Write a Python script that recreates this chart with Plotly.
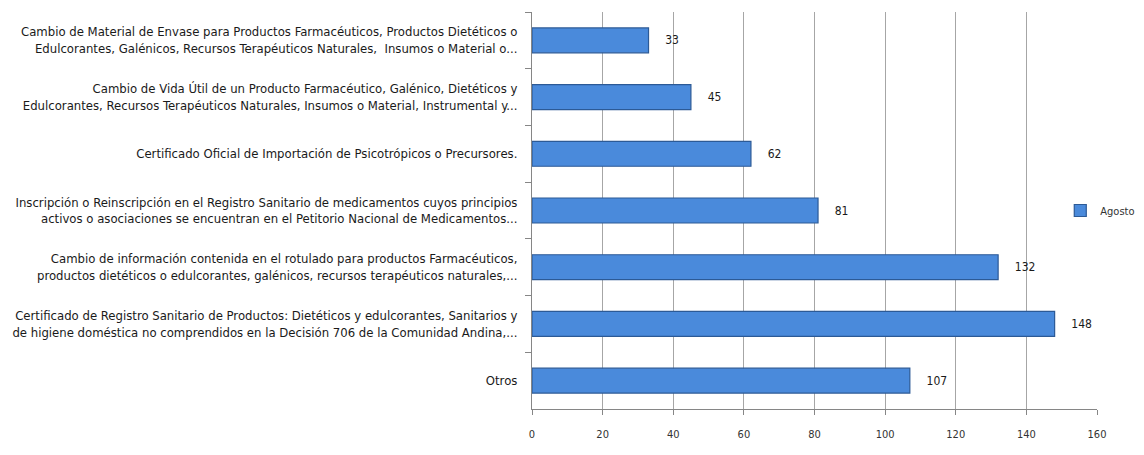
import plotly.graph_objects as go

categories = [
    "Cambio de Material de Envase para Productos Farmacéuticos, Productos Dietéticos o<br>Edulcorantes, Galénicos, Recursos Terapéuticos Naturales,  Insumos o Material o...",
    "Cambio de Vida Útil de un Producto Farmacéutico, Galénico, Dietéticos y<br>Edulcorantes, Recursos Terapéuticos Naturales, Insumos o Material, Instrumental y...",
    "Certificado Oficial de Importación de Psicotrópicos o Precursores.",
    "Inscripción o Reinscripción en el Registro Sanitario de medicamentos cuyos principios<br>activos o asociaciones se encuentran en el Petitorio Nacional de Medicamentos...",
    "Cambio de información contenida en el rotulado para productos Farmacéuticos,<br>productos dietéticos o edulcorantes, galénicos, recursos terapéuticos naturales,...",
    "Certificado de Registro Sanitario de Productos: Dietéticos y edulcorantes, Sanitarios y<br>de higiene doméstica no comprendidos en la Decisión 706 de la Comunidad Andina,...",
    "Otros",
]
values = [33, 45, 62, 81, 132, 148, 107]
series_name = "Agosto"
x_ticks = [0, 20, 40, 60, 80, 100, 120, 140, 160]

FONT = "DejaVu Sans Condensed, Liberation Sans Narrow, sans-serif"

fig = go.Figure()
fig.add_trace(go.Bar(
    x=values,
    y=categories,
    orientation="h",
    name=series_name,
    marker=dict(color="#4A8ADB", line=dict(color="#2C5A96", width=1.2)),
    text=values,
    texttemplate="\u00a0\u00a0\u00a0\u00a0%{x}",
    textposition="outside",
    textfont=dict(family=FONT, size=12, color="#1a1a1a"),
    cliponaxis=False,
    showlegend=True,
))

# The page body adds an 8px offset; the figure is sized to fit the window.
fig.update_layout(
    width=1136,
    height=447,
    margin=dict(l=524, r=47, t=4, b=46, autoexpand=False),
    paper_bgcolor="white",
    plot_bgcolor="white",
    bargap=0.56,
    font=dict(family=FONT, size=12, color="#1a1a1a"),
    legend=dict(
        x=0.935, y=0.5, xanchor="left", yanchor="middle",
        bgcolor="rgba(0,0,0,0)",
        font=dict(family=FONT, size=11, color="#333333"),
        itemwidth=30,
    ),
    xaxis=dict(
        range=[0, 160],
        tickvals=x_ticks,
        showgrid=True,
        gridcolor="#A6A6A6",
        gridwidth=1,
        showline=True,
        linecolor="#868686",
        ticks="outside",
        ticklen=5,
        tickcolor="#868686",
        ticklabelstandoff=10,
        tickfont=dict(family=FONT, size=11, color="#333333"),
        zeroline=False,
        fixedrange=True,
        automargin=False,
    ),
    yaxis=dict(
        autorange="reversed",
        showline=True,
        linecolor="#868686",
        ticks="outside",
        tickson="boundaries",
        ticklen=6,
        tickcolor="#868686",
        ticklabelstandoff=11,
        tickfont=dict(family=FONT, size=13, color="#1a1a1a"),
        showgrid=False,
        fixedrange=True,
        automargin=False,
    ),
)

fig.write_html("out.html")
